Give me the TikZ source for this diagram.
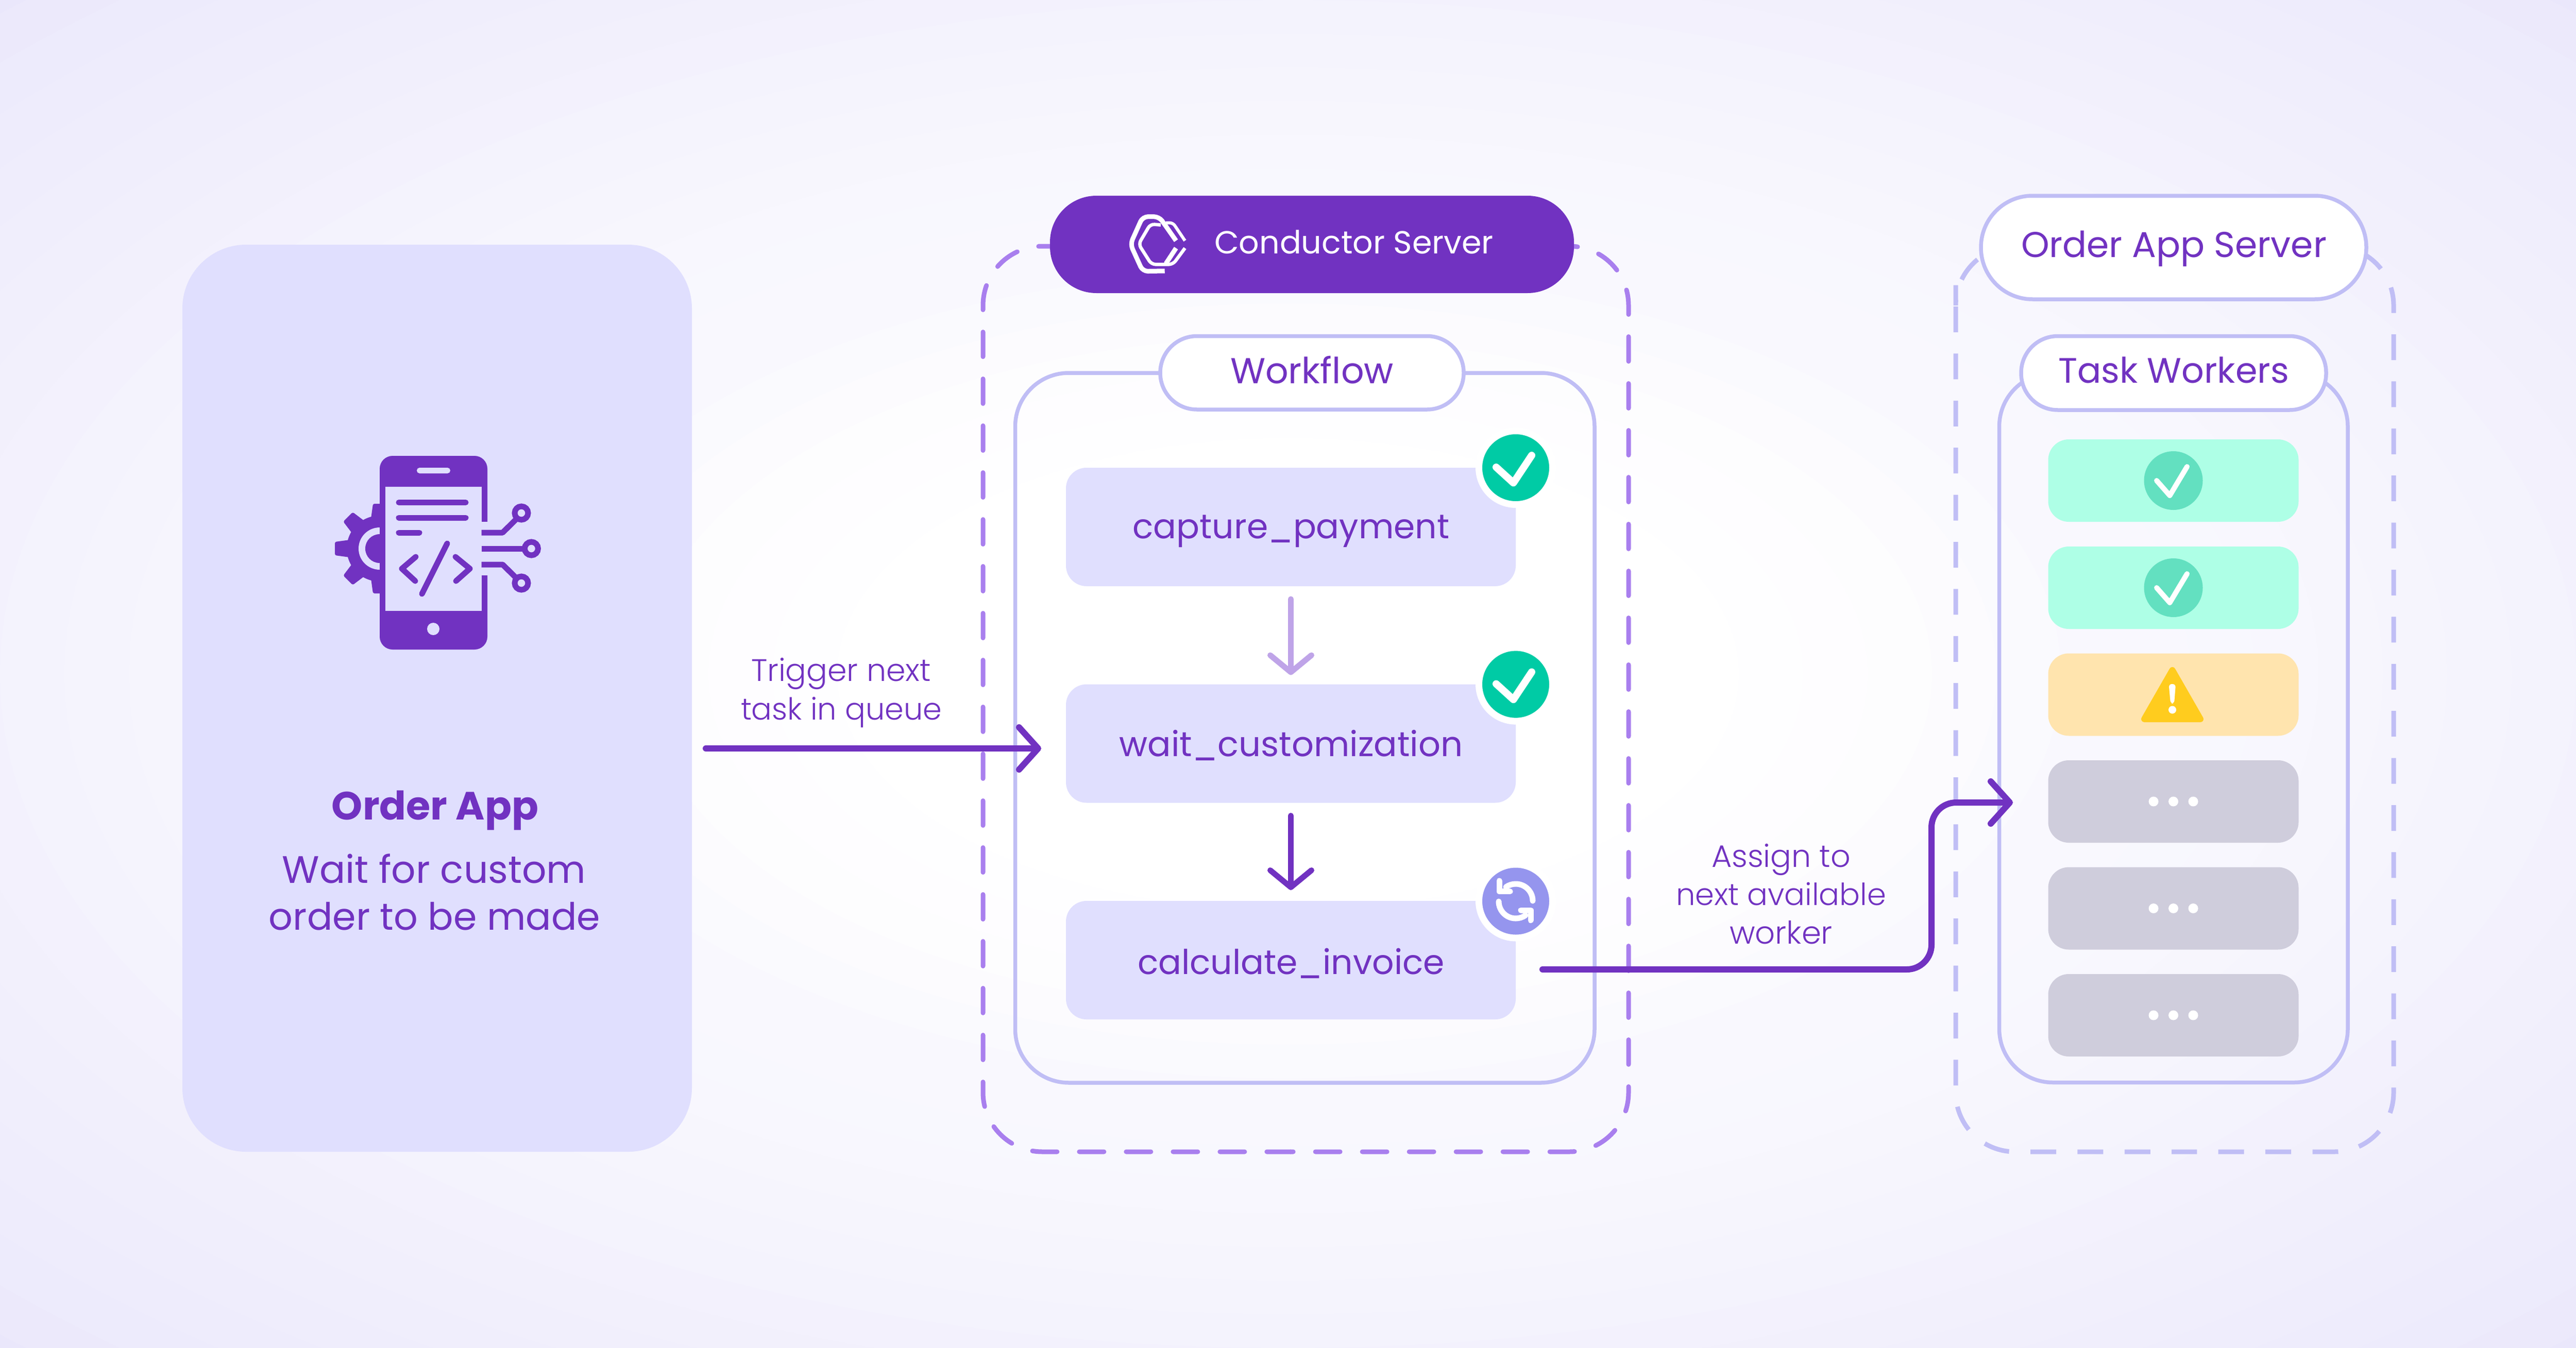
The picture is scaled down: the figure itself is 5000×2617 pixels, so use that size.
\documentclass[tikz,border=0pt]{standalone}
\usepackage{fontspec}
\usepackage{graphicx}
\usetikzlibrary{arrows.meta}
\setmainfont{Poppins}
\newfontfamily\lightf{Poppins Light}
\definecolor{brand}{HTML}{7132C1}
\definecolor{panel}{HTML}{E0DFFE}
\definecolor{frame}{HTML}{C0BEF5}
\definecolor{dashp}{HTML}{A97FEE}
\definecolor{softarrow}{HTML}{BFA4E8}
\definecolor{okgreen}{HTML}{00CBA5}
\definecolor{runblue}{HTML}{9595EE}
\definecolor{mint}{HTML}{AEFFE6}
\definecolor{mintdot}{HTML}{63E0C0}
\definecolor{sand}{HTML}{FFE4AE}
\definecolor{warn}{HTML}{FFCC1E}
\definecolor{idle}{HTML}{CFCDDC}
\definecolor{glowbase}{HTML}{EAE7FB}
\newcommand{\fitw}[2]{\resizebox{#1pt}{!}{\fontsize{30}{36}\selectfont #2}}
\tikzset{
  txt/.style={inner sep=0pt,outer sep=0pt,anchor=base,text=brand},
  softline/.style={line width=5.5pt,draw=softarrow,line cap=round,
    -{Straight Barb[length=16.5pt,width=40pt,round]}},
  darkline/.style={line width=5.5pt,draw=brand,line cap=round,
    -{Straight Barb[length=16.5pt,width=40pt,round]}},
  flowline/.style={line width=6pt,draw=brand,line cap=round,rounded corners=24pt,
    -{Straight Barb[length=18.5pt,width=41pt,round]}},
  dashA/.style={draw=dashp,line width=4.5pt,line cap=round,rounded corners=57.5pt,dash pattern=on 24pt off 21.5pt},
  dashB/.style={draw=frame,line width=4.5pt,rounded corners=57.5pt,dash pattern=on 25pt off 20.7pt},
  container/.style={draw=frame,line width=3.75pt,rounded corners=52pt,inner sep=0pt,outer sep=0pt},
  pill/.style={draw=frame,fill=white,line width=3.75pt,inner sep=0pt,outer sep=0pt},
  taskbox/.style={fill=panel,rounded corners=20pt,inner sep=0pt,outer sep=0pt,minimum width=436.5pt,minimum height=115pt},
  badge/.style={circle,draw=white,line width=6.5pt,minimum size=71.5pt,inner sep=0pt,outer sep=0pt},
  worker/.style={rounded corners=20pt,inner sep=0pt,outer sep=0pt,minimum width=243pt,minimum height=80pt},
  tick/.style={draw=white,line cap=round,line join=round},
  iconline/.style={draw=brand,line width=5.5pt,line cap=round,line join=round},
  wire/.style={draw=brand,line width=5.5pt,line join=round},
}
\begin{document}
\begin{tikzpicture}[x=0.5pt,y=-0.5pt]
\useasboundingbox (0,0) rectangle (5000,2617);
\begin{scope}
\clip (0,0) rectangle (5000,2617);
\fill[glowbase] (0,0) rectangle (5000,2617);
\foreach \rr/\tt in {1.40/90,1.35/85,1.30/81,1.25/76,1.20/71,1.15/66,1.10/62,1.05/57,1.00/52,0.95/47,0.90/43,0.85/38,0.80/33,0.75/31,0.70/30,0.65/28,0.60/22,0.55/16,0.50/10,0.45/6,0.40/3,0.35/0}{
  \fill[glowbase!\tt!white] (2500,1308.5) ellipse[x radius=\rr*1250pt,y radius=\rr*654.25pt];
}
\end{scope}

% Order App panel
\node[fill=panel,rounded corners=62pt,inner sep=0pt,outer sep=0pt,minimum width=494.5pt,minimum height=880.5pt] (orderapp) at (848.5,1355.5) {};

% gear
\begin{scope}
\clip (600,900) rectangle (737.5,1220);
\foreach \a in {0,45,...,315}{
  \fill[brand,rotate around={\a:(737,1065)},rounded corners=1.5pt] (795,1048) -- (824,1052) -- (824,1078) -- (795,1082) -- cycle;
}
\fill[brand] (737,1065) circle[radius=32pt];
\fill[panel] (737,1065) circle[radius=20.5pt];
\fill[brand] (737,1065) circle[radius=14pt];
\end{scope}
% phone
\fill[brand,rounded corners=12.5pt] (737,885) rectangle (946,1261);
\fill[panel] (747.5,945) rectangle (934.6,1186);
\fill[panel] (934,1013) rectangle (947,1117);
\fill[panel,rounded corners=2.7pt] (809,908) rectangle (874,919);
\fill[panel] (841,1221) circle[radius=6pt];
\foreach \yy/\xe in {975.5/904,1005/904,1034/814}{
  \draw[iconline] (774,\yy) -- (\xe,\yy);
}
\draw[iconline] (807,1081) -- (780,1104) -- (806,1128);
\draw[iconline] (884,1081) -- (912,1104) -- (885,1128);
\draw[iconline] (868,1055) -- (819,1153);
% circuit traces
\draw[wire] (934.6,1034) -- (975.6,1034) -- (1005,1005);
\draw[wire] (934.6,1065) -- (1020,1065);
\draw[wire] (934.6,1096) -- (975.6,1096) -- (1005,1125);
\foreach \cx/\cy in {1012/996,1031.4/1065,1012/1132}{
  \draw[brand,line width=5.5pt,fill=panel] (\cx,\cy) circle[radius=6.5pt];
}

\node[txt] (orderTitle) at (844.5,1591) {\fitw{200.5}{\bfseries Order App}};
\node[txt] (orderLineA) at (842.5,1714) {\fitw{295}{Wait for custom}};
\node[txt] (orderLineB) at (843.5,1805) {\fitw{321.5}{order to be made}};

% Conductor dashed frame
\draw[dashA] (1908,644.5) -- (1908,2236) -- (2505,2236);
\draw[dashA] (1908,601.5) -- (1908,478) -- (2505,478);
\draw[dashA] (3161,653.5) -- (3161,2236) -- (2505,2236);
\draw[dashA] (3161,610.5) -- (3161,478) -- (2505,478);

% Workflow box
\node[container,minimum width=562.25pt,minimum height=689pt] (workflowBox) at (2532.75,1413) {};
\node[pill,rounded corners=35.5pt,minimum width=294.5pt,minimum height=71.25pt] (workflowPill) at (2546.5,723.75) {};
\node[txt] (workflowText) at (2546.5,744) {\fitw{158.5}{Workflow}};

% Conductor pill
\node[fill=brand,rounded corners=45pt,inner sep=0pt,outer sep=0pt,minimum width=508.5pt,minimum height=94.5pt] (conductorPill) at (2546.5,474.5) {};
\node[txt,text=white] (conductorText) at (2628,492) {\fitw{271}{Conductor Server}};
% logo
\draw[white,line width=4.5pt,rounded corners=5pt] (2260.7,526) -- (2218,526.7) -- (2194,474) -- (2218,420.7) -- (2250,420.7) -- (2282.7,467.3);
\draw[white,line width=4.5pt] (2282.7,481.7) -- (2263,511.7);
\draw[white,line width=3.25pt,rounded corners=4pt] (2253,436.7) -- (2233,435) -- (2210,474) -- (2235,513.3) -- (2276.7,513.3) -- (2300,481.7);
\draw[white,line width=3pt,rounded corners=3pt] (2263,432.7) -- (2276.7,432.7) -- (2300,467.3);

% Tasks
\node[taskbox] (capture) at (2505.5,1023) {};
\node[taskbox] (wait) at (2505.5,1443.5) {};
\node[taskbox] (invoice) at (2505.5,1864) {};
\node[txt] (captureText) at (2506,1045) {\fitw{307.5}{capture\_payment}};
\node[txt] (waitText) at (2506,1468) {\fitw{333.5}{wait\_customization}};
\node[txt] (invoiceText) at (2506,1891) {\fitw{298}{calculate\_invoice}};

% Arrows between tasks
\draw[softline,shorten <=12.5pt,shorten >=9pt] (capture.south) -- (wait.north);
\draw[darkline,shorten <=12.5pt,shorten >=10.5pt] (wait.south) -- (invoice.north);

% Badges
\node[badge,fill=okgreen] (badgeA) at (2942,908) {};
\node[badge,fill=okgreen] (badgeB) at (2942,1328.6) {};
\node[badge,fill=runblue] (badgeC) at (2942,1749.5) {};
\foreach \dy in {0,420.6}{
  \draw[tick,line width=7pt] (2904,{908+\dy-1}) -- (2937.5,{908+\dy+29.5}) -- (2973,{908+\dy-24});
}
\draw[tick,line width=5.5pt] (2975,1749) arc[start angle=0,end angle=125,radius=16.5pt];
\draw[tick,line width=5.5pt] (2910,1710) -- (2910,1730.6) -- (2931,1730.6);
\draw[tick,line width=5.5pt] (2909,1750) arc[start angle=180,end angle=305,radius=16.5pt];
\draw[tick,line width=5.5pt] (2971,1786.7) -- (2971,1767) -- (2952,1767);

% Trigger label and arrow
\node[txt] (trigA) at (1632.5,1322) {\fitw{174.5}{\lightf Trigger next}};
\node[txt] (trigB) at (1633,1397) {\fitw{195}{\lightf task in queue}};
\coordinate (triggerFrom) at (1370,1453);
\coordinate (triggerTo) at (2021,1453);
\draw[flowline] (triggerFrom) -- (triggerTo);

% Order App Server dashed frame
\draw[dashB] (3796,595) -- (3796,2236) -- (4221,2236);
\draw[dashB] (3796,553.6) -- (3796,478) -- (4221,478);
\draw[dashB] (4646,649) -- (4646,2236) -- (4221,2236);
\draw[dashB] (4646,607.6) -- (4646,478) -- (4221,478);

% Task Workers box
\node[container,minimum width=338.25pt,minimum height=688.75pt] (workersBox) at (4218.75,1412.75) {};
\node[pill,rounded corners=35.5pt,minimum width=296pt,minimum height=71.75pt] (workersPill) at (4219,724.25) {};
\node[txt] (workersText) at (4219,743) {\fitw{224}{Task Workers}};
\node[pill,rounded corners=50pt,minimum width=374pt,minimum height=100.5pt] (serverPill) at (4219,480.5) {};
\node[txt] (serverText) at (4219.5,499) {\fitw{296.5}{Order App Server}};

% Workers
\node[worker,fill=mint] (wA) at (4218.5,933) {};
\node[worker,fill=mint] (wB) at (4218.5,1141) {};
\node[worker,fill=sand] (wC) at (4218.5,1348.5) {};
\node[worker,fill=idle] (wD) at (4218.5,1556) {};
\node[worker,fill=idle] (wE) at (4218.5,1763.5) {};
\node[worker,fill=idle] (wF) at (4218.5,1971) {};
\foreach \n in {wA,wB}{
  \fill[mintdot] (\n) circle[radius=28.5pt];
}
\foreach \dy in {0,208}{
  \draw[tick,line width=5pt] (4186,{933+\dy}) -- (4211.5,{962+\dy}) -- (4245,{906+\dy});
}
\fill[warn,draw=warn,line width=6pt,line join=round] (4216.5,1301) -- (4271,1396) -- (4162,1396) -- cycle;
\fill[white,rounded corners=3pt] (4209.5,1328) -- (4223,1328) -- (4220,1366) -- (4213,1366) -- cycle;
\fill[white] (4216.5,1378) circle[radius=3.75pt];
\foreach \n in {wD,wE,wF}{
  \foreach \dx in {-38.5,0,38.5}{
    \fill[white] ([xshift=\dx*0.5pt]\n.center) circle[radius=4.75pt];
  }
}

% Assign label and arrow
\node[txt] (assignA) at (3457,1683) {\fitw{135}{\lightf Assign to}};
\node[txt] (assignB) at (3457,1757) {\fitw{204}{\lightf next available}};
\node[txt] (assignC) at (3457,1832) {\fitw{100}{\lightf worker}};
\coordinate (assignFrom) at (2994,1882);
\coordinate (assignBend) at (3749,1558);
\coordinate (assignTo) at (3907,1558);
\draw[flowline] (assignFrom) -| (assignBend) -- (assignTo);
\end{tikzpicture}
\end{document}
